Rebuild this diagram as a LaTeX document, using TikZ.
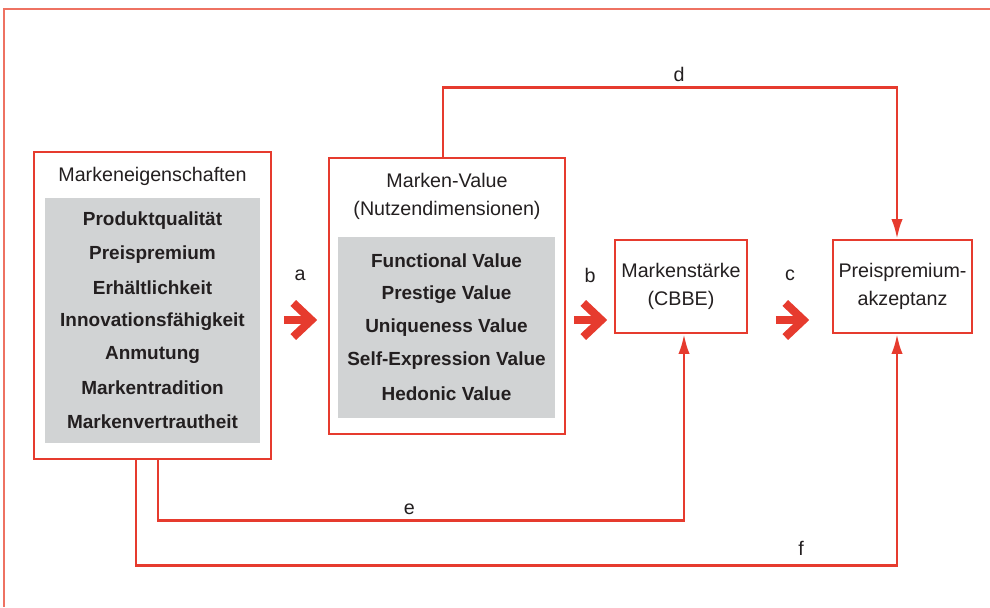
\documentclass[tikz,border=0pt]{standalone}
\usepackage{fontspec}
\setmainfont{Liberation Sans}
\usetikzlibrary{arrows.meta}
\definecolor{markenrot}{HTML}{E63B2E}
\definecolor{rahmenrot}{HTML}{EE7262}
\definecolor{kastengrau}{HTML}{D1D3D4}
\definecolor{schrift}{HTML}{231F20}
\tikzset{
  box/.style={draw=markenrot, line width=1.1pt, fill=white},
  graybox/.style={fill=kastengrau, inner sep=0pt},
  item/.style={font=\fontsize{13.5}{16}\selectfont\bfseries, text=schrift},
  title/.style={font=\fontsize{14}{20}\selectfont, text=schrift, align=center},
  conn/.style={draw=markenrot, line width=2.1pt, -{Latex[length=0.5cm, width=0.28cm]}},
  bigarrow/.style={draw=markenrot, line width=5.8pt, -{Straight Barb[length=0.45cm, width=0.85cm]}},
  lbl/.style={font=\fontsize{14}{16}\selectfont, text=schrift}
}
\begin{document}
\begin{tikzpicture}[x=0.025cm, y=-0.025cm]
\useasboundingbox (0,0) rectangle (990,607);
% frame
\draw[rahmenrot, line width=1.2pt] (990,9) -- (4,9) -- (4,607);
% boxes
\node[box, minimum width=5.925cm, minimum height=7.675cm] (eig) at (152.5,305.5) {};
\node[graybox, minimum width=5.375cm, minimum height=6.125cm] (eiggray) at (152.5,320.5) {};
\node[title] (eigtitle) at (152.5,176) {Markeneigenschaften};
\foreach \txt [count=\i] in {Produktqualität,Preispremium,Erhältlichkeit,Innovationsfähigkeit,Anmutung,Markentradition,Markenvertrautheit}
  \node[item] (eig\i) at ({152.5},{221+33.4*(\i-1)}) {\txt};
\node[box, minimum width=5.9cm, minimum height=6.9cm] (val) at (447,296) {};
\node[graybox, minimum width=5.425cm, minimum height=4.525cm] (valgray) at (446.5,327.5) {};
\node[title] (valtitle) at (447,196) {Marken-Value\\(Nutzendimensionen)};
\foreach \txt [count=\i] in {Functional Value,Prestige Value,Uniqueness Value,Self-Expression Value,Hedonic Value}
  \node[item] (val\i) at ({446.5},{261+33.3*(\i-1)}) {\txt};
\node[box, title, minimum width=3.3cm, minimum height=2.325cm] (staerke) at (681,286.5) {Markenstärke\\(CBBE)};
\node[box, title, minimum width=3.475cm, minimum height=2.325cm] (akzeptanz) at (902.5,286.5) {Preispremium-\\akzeptanz};
% big arrows
\coordinate (arrowrow) at (0,320);
\draw[bigarrow, shorten <=0.3cm, shorten >=0.275cm] (eig.east |- arrowrow) -- (val.west |- arrowrow)
  node[lbl, midway, yshift=1.125cm] {a};
\draw[bigarrow, shorten <=0.2cm, shorten >=0.175cm] (val.east |- arrowrow) -- (staerke.west |- arrowrow)
  node[lbl, midway, yshift=1.125cm] {b};
\draw[bigarrow, shorten <=0.7cm, shorten >=0.575cm] (staerke.east |- arrowrow) -- (akzeptanz.west |- arrowrow)
  node[lbl, midway, yshift=1.125cm] {c};
% connectors
\draw[conn] ([xshift=-0.1cm]val.north) -- ++(0,-70) -| ([xshift=-0.1375cm]akzeptanz.north)
  node[lbl, pos=0.26, yshift=0.325cm] {d};
\draw[conn] ([xshift=0.1375cm]eig.south) -- ++(0,61) -| ([xshift=0.075cm]staerke.south)
  node[lbl, pos=0.239, yshift=0.3cm] {e};
\draw[conn] ([xshift=-0.4125cm]eig.south) -- ++(0,106) -| ([xshift=-0.1375cm]akzeptanz.south)
  node[lbl, pos=0.437, yshift=0.425cm] {f};
\end{tikzpicture}
\end{document}
